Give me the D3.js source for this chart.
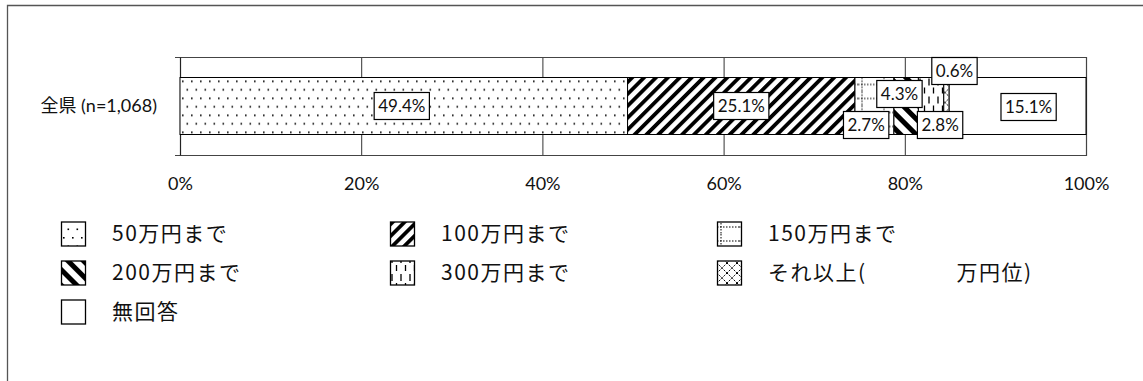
<!DOCTYPE html>
<html>
<head>
<meta charset="utf-8">
<script src="https://cdn.jsdelivr.net/npm/d3@7"></script>
<style>
  html, body { margin: 0; padding: 0; background: #fff; }
  svg { display: block; }
</style>
</head>
<body>
<div id="chart"></div>
<script>
// data
var categories = ['全県 (n=1,068)'];
var seriesNames = ['50万円まで', '100万円まで', '150万円まで', '200万円まで', '300万円まで',
  'それ以上(\u3000\u3000\u3000\u3000万円位)', '無回答'];
var seriesValues = [49.4, 25.1, 4.3, 2.7, 2.8, 0.6, 15.1];
var tickValues = [0, 20, 40, 60, 80, 100];

var width = 1143,
    height = 381,
    plot = {left: 180, right: 1086, top: 57, bottom: 155},
    numFont = "Lato, 'Noto Sans CJK JP', sans-serif",
    jpFont = "'Noto Sans CJK JP', sans-serif";

var svg = d3.select('#chart').append('svg')
  .attr('width', width)
  .attr('height', height);

/* patterns */
var defs = svg.append('defs');
var patIds = ['p50', 'p100', 'p150', 'p200', 'p300', 'pOver', 'pNone'];

var p = defs.append('pattern').attr('id', 'p50').attr('patternUnits', 'userSpaceOnUse')
  .attr('width', 18).attr('height', 17);
p.append('rect').attr('width', 18).attr('height', 17).attr('fill', '#fff');
[[2, 3], [11, 3], [6.5, 11.5], [15.5, 11.5]].forEach(function(d) {
  p.append('rect').attr('x', d[0]).attr('y', d[1]).attr('width', 1.6).attr('height', 1.6).attr('fill', '#000');
});

p = defs.append('pattern').attr('id', 'p100').attr('patternUnits', 'userSpaceOnUse')
  .attr('width', 8.4).attr('height', 8.4).attr('patternTransform', 'rotate(45)');
p.append('rect').attr('width', 8.4).attr('height', 8.4).attr('fill', '#fff');
p.append('rect').attr('width', 3.8).attr('height', 8.4).attr('fill', '#000');

p = defs.append('pattern').attr('id', 'p150').attr('patternUnits', 'userSpaceOnUse')
  .attr('width', 22).attr('height', 14);
p.append('rect').attr('width', 22).attr('height', 14).attr('fill', '#fff');
p.append('line').attr('x1', 4).attr('x2', 4).attr('y1', 0).attr('y2', 14)
  .attr('stroke', '#000').attr('stroke-width', 1).attr('stroke-dasharray', '1.5,1.5');
p.append('line').attr('x1', 0).attr('x2', 22).attr('y1', 7).attr('y2', 7)
  .attr('stroke', '#000').attr('stroke-width', 1).attr('stroke-dasharray', '1.5,1.5');

p = defs.append('pattern').attr('id', 'p200').attr('patternUnits', 'userSpaceOnUse')
  .attr('width', 11).attr('height', 11).attr('patternTransform', 'rotate(-45)');
p.append('rect').attr('width', 11).attr('height', 11).attr('fill', '#fff');
p.append('rect').attr('width', 5).attr('height', 11).attr('fill', '#000');

p = defs.append('pattern').attr('id', 'p300').attr('patternUnits', 'userSpaceOnUse')
  .attr('width', 9).attr('height', 18);
p.append('rect').attr('width', 9).attr('height', 18).attr('fill', '#fff');
p.append('line').attr('x1', 2).attr('x2', 2).attr('y1', 1).attr('y2', 8)
  .attr('stroke', '#000').attr('stroke-width', 1.3);
p.append('line').attr('x1', 6.5).attr('x2', 6.5).attr('y1', 10).attr('y2', 16)
  .attr('stroke', '#000').attr('stroke-width', 1.3);

p = defs.append('pattern').attr('id', 'pOver').attr('patternUnits', 'userSpaceOnUse')
  .attr('width', 10).attr('height', 10);
p.append('rect').attr('width', 10).attr('height', 10).attr('fill', '#fff');
p.append('path').attr('d', 'M0,0L10,10M10,0L0,10')
  .attr('stroke', '#000').attr('stroke-width', 1).attr('stroke-dasharray', '1.5,1');

p = defs.append('pattern').attr('id', 'pNone').attr('patternUnits', 'userSpaceOnUse')
  .attr('width', 4).attr('height', 4);
p.append('rect').attr('width', 4).attr('height', 4).attr('fill', '#fff');

/* outer frame (only top and left are inside the picture) */
svg.append('path')
  .attr('d', 'M7.5,381V5.5H1143')
  .attr('fill', 'none').attr('stroke', '#555').attr('stroke-width', 1.3);

/* scales */
var x = d3.scaleLinear().domain([0, 100]).range([plot.left, plot.right]);
var y = d3.scaleBand().domain(categories).range([plot.top, plot.bottom])
  .paddingInner(0.2645).paddingOuter(0.2645);

// x axis with gridlines
var xAxis = d3.axisBottom(x)
  .tickValues(tickValues)
  .tickFormat(function(d) { return d + '%'; })
  .tickSize(-(plot.bottom - plot.top))
  .tickPadding(22);

var gx = svg.append('g')
  .attr('transform', 'translate(0,' + plot.bottom + ')')
  .call(xAxis);
gx.select('.domain').remove();
gx.selectAll('.tick line').attr('stroke', '#333').attr('stroke-width', 1);
gx.selectAll('.tick text')
  .attr('font-family', numFont)
  .attr('font-size', '18px')
  .attr('fill', '#111');

// plot frame
svg.append('path')
  .attr('d', 'M' + (plot.left - 5) + ',' + (plot.top + 0.5) + 'H' + (plot.right + 0.5) +
    'V' + (plot.bottom + 0.5) + 'H' + (plot.left - 5))
  .attr('fill', 'none').attr('stroke', '#444').attr('stroke-width', 1.2);

// y axis
var yAxis = d3.axisLeft(y).tickSize(0).tickPadding(23);
var gy = svg.append('g')
  .attr('transform', 'translate(' + plot.left + ',0)')
  .call(yAxis);
gy.select('.domain').attr('stroke', '#222').attr('stroke-width', 1.2);
gy.selectAll('.tick text')
  .attr('font-family', numFont)
  .attr('font-size', '18px')
  .attr('fill', '#111');

/* stacked bar */
var ends = d3.cumsum(seriesValues);
var segs = seriesValues.map(function(v, i) {
  return {name: seriesNames[i], value: v, x0: ends[i] - v, x1: ends[i], pat: patIds[i]};
});

var row = svg.append('g').attr('transform', 'translate(0,' + y(categories[0]) + ')');

row.selectAll('rect.seg')
  .data(segs)
  .enter().append('rect')
  .attr('class', 'seg')
  .attr('x', function(d) { return x(d.x0); })
  .attr('y', 0)
  .attr('width', function(d) { return x(d.x1) - x(d.x0); })
  .attr('height', y.bandwidth())
  .attr('fill', function(d) { return 'url(#' + d.pat + ')'; })
  .attr('stroke', '#000')
  .attr('stroke-width', 1);

/* value labels in boxes (Excel moved the small ones aside) */
var labelNudge = [[-2, 0], [0, 0], [25, -12], [-40, 19], [9, 19], [8, -35], [11, 1]];

var lab = row.selectAll('g.lab')
  .data(segs)
  .enter().append('g')
  .attr('class', 'lab')
  .attr('transform', function(d, i) {
    var cx = (x(d.x0) + x(d.x1)) / 2 + labelNudge[i][0];
    var cy = y.bandwidth() / 2 + labelNudge[i][1];
    return 'translate(' + cx + ',' + cy + ')';
  });

lab.append('rect').attr('class', 'box');
lab.append('text')
  .text(function(d) { return d3.format('.1f')(d.value) + '%'; })
  .attr('text-anchor', 'middle')
  .attr('dy', '0.35em')
  .attr('font-family', numFont)
  .attr('font-size', '17px')
  .attr('fill', '#111');

lab.each(function() {
  var g = d3.select(this);
  var bb = g.select('text').node().getBBox();
  g.select('rect.box')
    .attr('x', bb.x - 4)
    .attr('y', -13.5)
    .attr('width', bb.width + 8)
    .attr('height', 27)
    .attr('fill', '#fff')
    .attr('stroke', '#000')
    .attr('stroke-width', 1.2);
});

/* legend */
var legCols = [61, 390, 717],
    legRows = [234, 273, 312],
    sw = 24;

var leg = svg.selectAll('g.leg')
  .data(segs)
  .enter().append('g')
  .attr('class', 'leg')
  .attr('transform', function(d, i) {
    return 'translate(' + legCols[i % 3] + ',' + legRows[Math.floor(i / 3)] + ')';
  });

leg.append('rect')
  .attr('x', 0.5)
  .attr('y', -sw / 2)
  .attr('width', sw)
  .attr('height', sw)
  .attr('fill', function(d) { return 'url(#' + d.pat + ')'; })
  .attr('stroke', '#000')
  .attr('stroke-width', 1.3);

leg.append('text')
  .text(function(d) { return d.name; })
  .attr('x', 51)
  .attr('dy', '0.35em')
  .attr('font-family', jpFont)
  .attr('font-size', '21px')
  .attr('letter-spacing', '1.5px')
  .attr('fill', '#111');
</script>
</body>
</html>
